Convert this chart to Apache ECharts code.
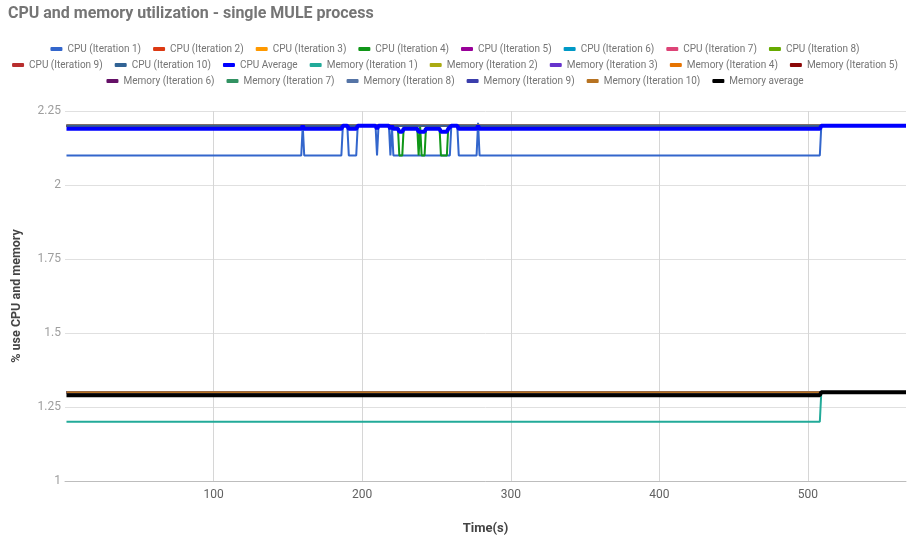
<!DOCTYPE html>
<html>
<head>
<meta charset="utf-8">
<script src="https://cdn.jsdelivr.net/npm/echarts@6/dist/echarts.min.js"></script>
<style>html,body{margin:0;padding:0;background:#fff}#c{width:910px;height:541px}</style>
</head>
<body>
<div id="c"></div>
<script>
// ---- data (time in s, value) ----
const seriesNames = [
  'CPU (Iteration 1)','CPU (Iteration 2)','CPU (Iteration 3)','CPU (Iteration 4)','CPU (Iteration 5)',
  'CPU (Iteration 6)','CPU (Iteration 7)','CPU (Iteration 8)','CPU (Iteration 9)','CPU (Iteration 10)',
  'CPU Average',
  'Memory (Iteration 1)','Memory (Iteration 2)','Memory (Iteration 3)','Memory (Iteration 4)','Memory (Iteration 5)',
  'Memory (Iteration 6)','Memory (Iteration 7)','Memory (Iteration 8)','Memory (Iteration 9)','Memory (Iteration 10)',
  'Memory average'
];
const cpu1 = [[1,2.1],[159,2.1],[160,2.2],[161,2.1],[186,2.1],[187,2.2],[190,2.2],[191,2.1],[196,2.1],[197,2.2],[209,2.2],[210,2.1],[211,2.2],[218,2.2],[219,2.1],[220,2.2],[221,2.1],[259,2.1],[260,2.2],[264,2.2],[265,2.1],[277,2.1],[278,2.21],[279,2.1],[508,2.1],[509,2.2],[566,2.2]];
const cpu2 = [[1,2.2],[566,2.2]];
const cpu3 = [[1,2.2],[566,2.2]];
const cpu4 = [[1,2.2],[224,2.2],[225,2.1],[227,2.1],[228,2.2],[237,2.2],[238,2.1],[239,2.2],[240,2.1],[242,2.1],[243,2.2],[252,2.2],[253,2.1],[257,2.1],[258,2.2],[566,2.2]];
const cpu5 = [[1,2.2],[566,2.2]];
const cpu6 = [[1,2.2],[566,2.2]];
const cpu7 = [[1,2.2],[566,2.2]];
const cpu8 = [[1,2.2],[566,2.2]];
const cpu9 = [[1,2.2],[566,2.2]];
const cpu10 = [[1,2.2],[566,2.2]];
const cpuAvg = [[1,2.19],[159,2.19],[160,2.2],[161,2.19],[186,2.19],[187,2.2],[190,2.2],[191,2.19],[196,2.19],[197,2.2],[209,2.2],[210,2.19],[211,2.2],[218,2.2],[219,2.19],[220,2.2],[221,2.19],[224,2.19],[225,2.18],[227,2.18],[228,2.19],[237,2.19],[238,2.18],[242,2.18],[243,2.19],[252,2.19],[253,2.18],[257,2.18],[258,2.19],[259,2.19],[260,2.2],[264,2.2],[265,2.19],[277,2.19],[278,2.2],[279,2.19],[508,2.19],[509,2.2],[566,2.2]];
const mem1 = [[1,1.2],[508,1.2],[509,1.3],[566,1.3]];
const mem2 = [[1,1.3],[566,1.3]];
const mem3 = [[1,1.3],[566,1.3]];
const mem4 = [[1,1.3],[566,1.3]];
const mem5 = [[1,1.3],[566,1.3]];
const mem6 = [[1,1.3],[566,1.3]];
const mem7 = [[1,1.3],[566,1.3]];
const mem8 = [[1,1.3],[566,1.3]];
const mem9 = [[1,1.3],[566,1.3]];
const mem10 = [[1,1.3],[566,1.3]];
const memAvg = [[1,1.29],[508,1.29],[509,1.3],[566,1.3]];

const allData = [cpu1,cpu2,cpu3,cpu4,cpu5,cpu6,cpu7,cpu8,cpu9,cpu10,cpuAvg,
                 mem1,mem2,mem3,mem4,mem5,mem6,mem7,mem8,mem9,mem10,memAvg];
const colors = ['#3366cc','#dc3912','#ff9900','#109618','#990099','#0099c6','#dd4477','#66aa00','#b82e2e','#316395',
                '#0000ff',
                '#22aa99','#aaaa11','#6633cc','#e67300','#8b0707','#651067','#329262','#5574a6','#3b3eac','#b77322',
                '#000000'];
const xTicks = [100,200,300,400,500];

const chart = echarts.init(document.getElementById('c'), null, {renderer:'canvas'});
const legendCommon = {
  left: 'center', padding: 0, itemWidth: 12, itemHeight: 4, itemGap: 12, icon: 'roundRect',
  textStyle: {color:'#757575', fontSize:10, fontFamily:'Roboto'}
};
chart.setOption({
  animation: false,
  color: colors,
  title: {
    text: 'CPU and memory utilization - single MULE process',
    left: 3, top: 1,
    textStyle: {color:'#757575', fontSize:16, fontWeight:'bold', fontFamily:'Roboto'}
  },
  legend: [
    Object.assign({top: 44, data: seriesNames.slice(0,8)}, legendCommon),
    Object.assign({top: 60, data: seriesNames.slice(8,16)}, legendCommon),
    Object.assign({top: 76, data: seriesNames.slice(16)}, legendCommon)
  ],
  grid: {left: 65, right: 4, top: 111, bottom: 60, containLabel: false},
  xAxis: {
    type: 'value', min: 0, max: 566, interval: 100,
    name: 'Time(s)', nameLocation: 'middle', nameGap: 41,
    nameTextStyle: {color:'#444', fontSize:13, fontWeight:'bold', fontFamily:'Roboto'},
    axisLine: {show: true, lineStyle: {color:'#bdbdbd', width:1}},
    axisTick: {show: false},
    axisLabel: {color:'#616161', fontSize:12, fontFamily:'Roboto', margin: 8,
      formatter: v => xTicks.indexOf(v) >= 0 ? String(v) : ''},
    splitLine: {show: true, showMinLine: false, showMaxLine: false, lineStyle: {color:'#d6d6d6', width:1}}
  },
  yAxis: {
    type: 'value', min: 1, max: 2.25, interval: 0.25,
    name: '% use CPU and memory', nameLocation: 'middle', nameGap: 42, nameRotate: 90,
    nameTextStyle: {color:'#444', fontSize:12.5, fontWeight:'bold', fontFamily:'Roboto'},
    axisLine: {show: false}, axisTick: {show: false},
    axisLabel: {color:'#9e9e9e', fontSize:12, fontFamily:'Roboto', margin: 4},
    splitLine: {show: true, lineStyle: {color:'#e0e0e0', width:1}}
  },
  series: allData.map((d, i) => ({
    name: seriesNames[i], type: 'line', data: d, showSymbol: false, symbol: 'none',
    lineStyle: {width: (i === 10 || i === 21) ? 4 : 2},
    emphasis: {disabled: true}, z: 2
  }))
});
</script>
</body>
</html>
